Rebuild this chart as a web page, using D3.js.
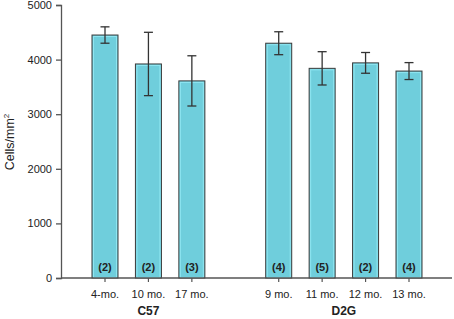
<!DOCTYPE html>
<html>
<head>
    <meta charset="utf-8">
    <title>Cells/mm2 by age, C57 and D2G</title>
    <script src="https://d3js.org/d3.v7.min.js"></script>
    <style>
        body { margin: 0; background: #fff; }
        text { font-family: "Liberation Sans", Arial, sans-serif; }
    </style>
</head>
<body>
    <div id="chart"></div>
    <script>

        // data
        var groups = ["C57", "C57", "C57", "D2G", "D2G", "D2G", "D2G"];
        var labels = ["4-mo.", "10 mo.", "17 mo.", "9 mo.", "11 mo.", "12 mo.", "13 mo."];
        var slots = [0, 1, 2, 4, 5, 6, 7];
        var means = [4450, 3920, 3610, 4300, 3840, 3940, 3790];
        var errors = [150, 580, 460, 210, 305, 190, 155];
        var counts = ["(2)", "(2)", "(3)", "(4)", "(5)", "(2)", "(4)"];
        var yTicks = [0, 1000, 2000, 3000, 4000, 5000];

        var width = 454, height = 319;
        var x0 = 61, xEnd = 452, yBase = 278, yTop = 5;
        var barW = 26;

        var svg = d3.select("#chart")
            .append("svg")
            .attr("width", width)
            .attr("height", height);

        var x = d3.scaleLinear().domain([0, 7]).range([105, 409]);
        var y = d3.scaleLinear().domain([0, 5000]).range([yBase, yTop]);

        var data = means.map(function(m, i) {
            return { group: groups[i], label: labels[i], slot: slots[i], mean: m, err: errors[i], n: counts[i] };
        });

        // bars
        var bars = svg.append("g");
        bars.selectAll(".bar")
            .data(data)
            .enter()
            .append("rect")
            .attr("x", function(d) { return x(d.slot) - barW / 2; })
            .attr("y", function(d) { return y(d.mean); })
            .attr("width", barW)
            .attr("height", function(d) { return yBase - y(d.mean); })
            .style("fill", "#6fcedc")
            .style("stroke", "#3a3a3a")
            .style("stroke-width", 1);

        // light inner edge
        bars.selectAll(".inner")
            .data(data)
            .enter()
            .append("rect")
            .attr("x", function(d) { return x(d.slot) - barW / 2 + 1.5; })
            .attr("y", function(d) { return y(d.mean) + 1.5; })
            .attr("width", barW - 3)
            .attr("height", function(d) { return yBase - y(d.mean) - 2; })
            .style("fill", "none")
            .style("stroke", "#8fe6f2")
            .style("stroke-width", 1);

        // error bars
        var eb = svg.append("g").style("stroke", "#333").style("stroke-width", 1.3);
        eb.selectAll(".v")
            .data(data)
            .enter()
            .append("line")
            .attr("x1", function(d) { return x(d.slot); })
            .attr("x2", function(d) { return x(d.slot); })
            .attr("y1", function(d) { return y(d.mean + d.err); })
            .attr("y2", function(d) { return y(d.mean - d.err); });
        eb.selectAll(".capT")
            .data(data)
            .enter()
            .append("line")
            .attr("x1", function(d) { return x(d.slot) - 4.5; })
            .attr("x2", function(d) { return x(d.slot) + 4.5; })
            .attr("y1", function(d) { return y(d.mean + d.err); })
            .attr("y2", function(d) { return y(d.mean + d.err); });
        eb.selectAll(".capB")
            .data(data)
            .enter()
            .append("line")
            .attr("x1", function(d) { return x(d.slot) - 4.5; })
            .attr("x2", function(d) { return x(d.slot) + 4.5; })
            .attr("y1", function(d) { return y(d.mean - d.err); })
            .attr("y2", function(d) { return y(d.mean - d.err); });

        // n counts
        svg.selectAll(".n")
            .data(data)
            .enter()
            .append("text")
            .attr("x", function(d) { return x(d.slot); })
            .attr("y", yBase - 7)
            .style("text-anchor", "middle")
            .style("font-size", "11px")
            .style("font-weight", "bold")
            .style("fill", "#222")
            .text(function(d) { return d.n; });

        // y axis
        var yAxis = d3.axisLeft(y).tickValues(yTicks).tickSize(5).tickPadding(4).tickFormat(d3.format("d"));
        var gy = svg.append("g")
            .attr("transform", "translate(" + x0 + ",0)")
            .call(yAxis);
        gy.select(".domain").attr("stroke", "#555").attr("stroke-width", 1.3);
        gy.selectAll(".tick line").attr("stroke", "#555").attr("stroke-width", 1.3);
        gy.selectAll(".tick text")
            .style("font-family", "Liberation Sans, Arial, sans-serif")
            .style("font-size", "11px")
            .attr("fill", "#222");

        // x axis line
        svg.append("line")
            .attr("x1", x0)
            .attr("x2", xEnd)
            .attr("y1", yBase)
            .attr("y2", yBase)
            .style("stroke", "#555")
            .style("stroke-width", 1.3);

        // x ticks and labels
        svg.selectAll(".xt")
            .data(data)
            .enter()
            .append("line")
            .attr("x1", function(d) { return x(d.slot); })
            .attr("x2", function(d) { return x(d.slot); })
            .attr("y1", yBase)
            .attr("y2", yBase + 4)
            .style("stroke", "#555")
            .style("stroke-width", 1.2);

        svg.selectAll(".xl")
            .data(data)
            .enter()
            .append("text")
            .attr("x", function(d) { return x(d.slot); })
            .attr("y", 298)
            .style("text-anchor", "middle")
            .style("font-size", "11px")
            .style("fill", "#222")
            .text(function(d) { return d.label; });

        // group labels
        var groupNames = ["C57", "D2G"];
        svg.selectAll(".grp")
            .data(groupNames)
            .enter()
            .append("text")
            .attr("x", function(g) {
                var s = data.filter(function(d) { return d.group === g; });
                return (x(s[0].slot) + x(s[s.length - 1].slot)) / 2;
            })
            .attr("y", 315)
            .style("text-anchor", "middle")
            .style("font-size", "12px")
            .style("font-weight", "bold")
            .style("fill", "#222")
            .text(function(g) { return g; });

        // y label
        var yl = svg.append("text")
            .attr("transform", "translate(14,142) rotate(-90)")
            .style("text-anchor", "middle")
            .style("font-size", "12.5px")
            .style("fill", "#222");
        yl.append("tspan").text("Cells/mm");
        yl.append("tspan").attr("dy", -5).style("font-size", "8px").text("2");

    </script>
</body>
</html>
